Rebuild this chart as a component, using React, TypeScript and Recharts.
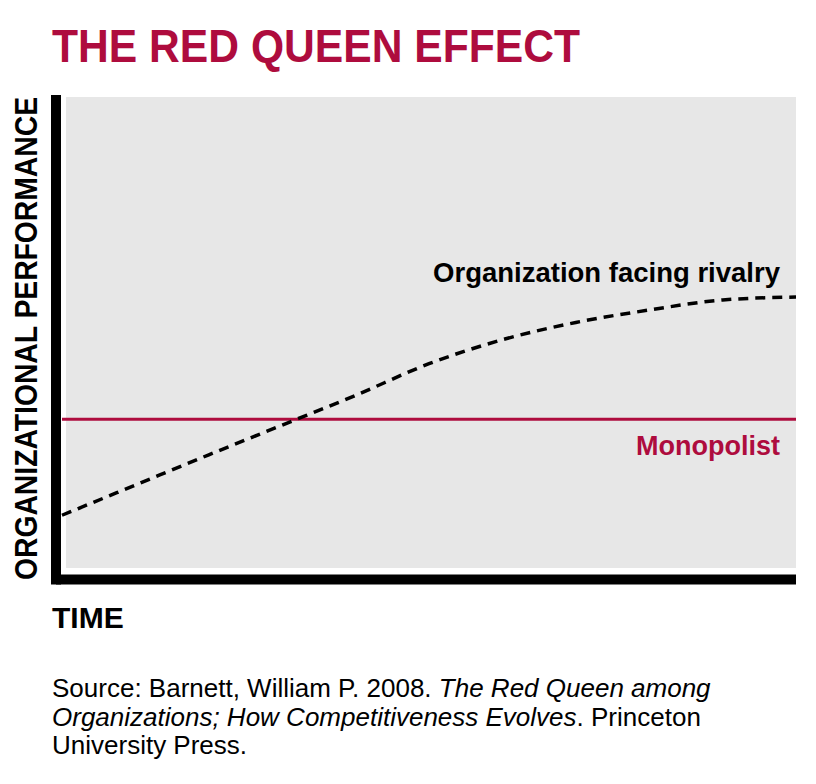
import React from 'react';
import { LineChart, Line, XAxis, YAxis } from 'recharts';

// time steps (0 = start, 100 = end of the observed period)
const timeSteps = [0, 10, 20, 30, 40, 50, 60, 70, 80, 90, 100];
// organizational performance (0 = time axis)
const rivalry = [13.4, 19.7, 26.0, 32.2, 38.4, 45.0, 50.0, 53.6, 56.2, 58.3, 58.9];
const monopolist = [33.4, 33.4, 33.4, 33.4, 33.4, 33.4, 33.4, 33.4, 33.4, 33.4, 33.4];

const data = timeSteps.map((t, i) => ({
  t,
  rivalry: rivalry[i],
  monopolist: monopolist[i],
}));

const CRIMSON = '#ae0c3e';
const FONT = "'Liberation Sans', Arial, sans-serif";

export default function App() {
  return (
    <div style={{ position: 'absolute', left: 0, top: 0, width: 816, height: 784, background: '#fff' }}>
      {/* gray panel behind the plot */}
      <div style={{ position: 'absolute', left: 66, top: 97, width: 730, height: 471, background: '#e7e7e7' }} />

      <div style={{ position: 'absolute', left: 0, top: 0 }}>
        <LineChart
          width={816}
          height={784}
          data={data}
          margin={{ top: 100, right: 20, left: 55, bottom: 203.5 }}
        >
          <XAxis
            dataKey="t"
            type="number"
            domain={[0, 100]}
            padding={{ left: 6, right: 0 }}
            height={1}
            tick={false}
            tickLine={false}
            axisLine={{ stroke: '#000', strokeWidth: 10 }}
          />
          <YAxis
            type="number"
            domain={[0, 100]}
            width={1}
            tick={false}
            tickLine={false}
            axisLine={{ stroke: '#000', strokeWidth: 10, strokeLinecap: 'square' }}
          />
          <Line
            dataKey="monopolist"
            stroke={CRIMSON}
            strokeWidth={3}
            dot={false}
            activeDot={false}
            isAnimationActive={false}
          />
          <Line
            type="monotone"
            dataKey="rivalry"
            stroke="#000"
            strokeWidth={3.5}
            strokeDasharray="10 7"
            dot={false}
            activeDot={false}
            isAnimationActive={false}
          />
        </LineChart>
      </div>

      {/* titles, labels and source */}
      <svg
        width={816}
        height={784}
        style={{ position: 'absolute', left: 0, top: 0, pointerEvents: 'none' }}
        fontFamily={FONT}
      >
        <text x={52} y={62} fontSize={47} fontWeight="bold" fill={CRIMSON} textLength={528} lengthAdjust="spacingAndGlyphs">
          THE RED QUEEN EFFECT
        </text>

        <text
          transform="translate(37, 338.5) rotate(-90)"
          textAnchor="middle"
          fontSize={32}
          fontWeight="bold"
          fill="#000"
          textLength={483}
          lengthAdjust="spacingAndGlyphs"
        >
          ORGANIZATIONAL PERFORMANCE
        </text>

        <text x={52} y={628} fontSize={30} fontWeight="bold" fill="#000">
          TIME
        </text>

        <text x={780} y={282} textAnchor="end" fontSize={27.5} fontWeight="bold" fill="#000">
          Organization facing rivalry
        </text>
        <text x={780} y={455} textAnchor="end" fontSize={27} fontWeight="bold" fill={CRIMSON}>
          Monopolist
        </text>

        <text x={52} y={697} fontSize={26} fill="#000">
          Source: Barnett, William P. 2008. <tspan fontStyle="italic">The Red Queen among</tspan>
        </text>
        <text x={52} y={725.5} fontSize={26} fill="#000">
          <tspan fontStyle="italic">Organizations; How Competitiveness Evolves</tspan>. Princeton
        </text>
        <text x={52} y={754} fontSize={26} fill="#000">
          University Press.
        </text>
      </svg>
    </div>
  );
}
